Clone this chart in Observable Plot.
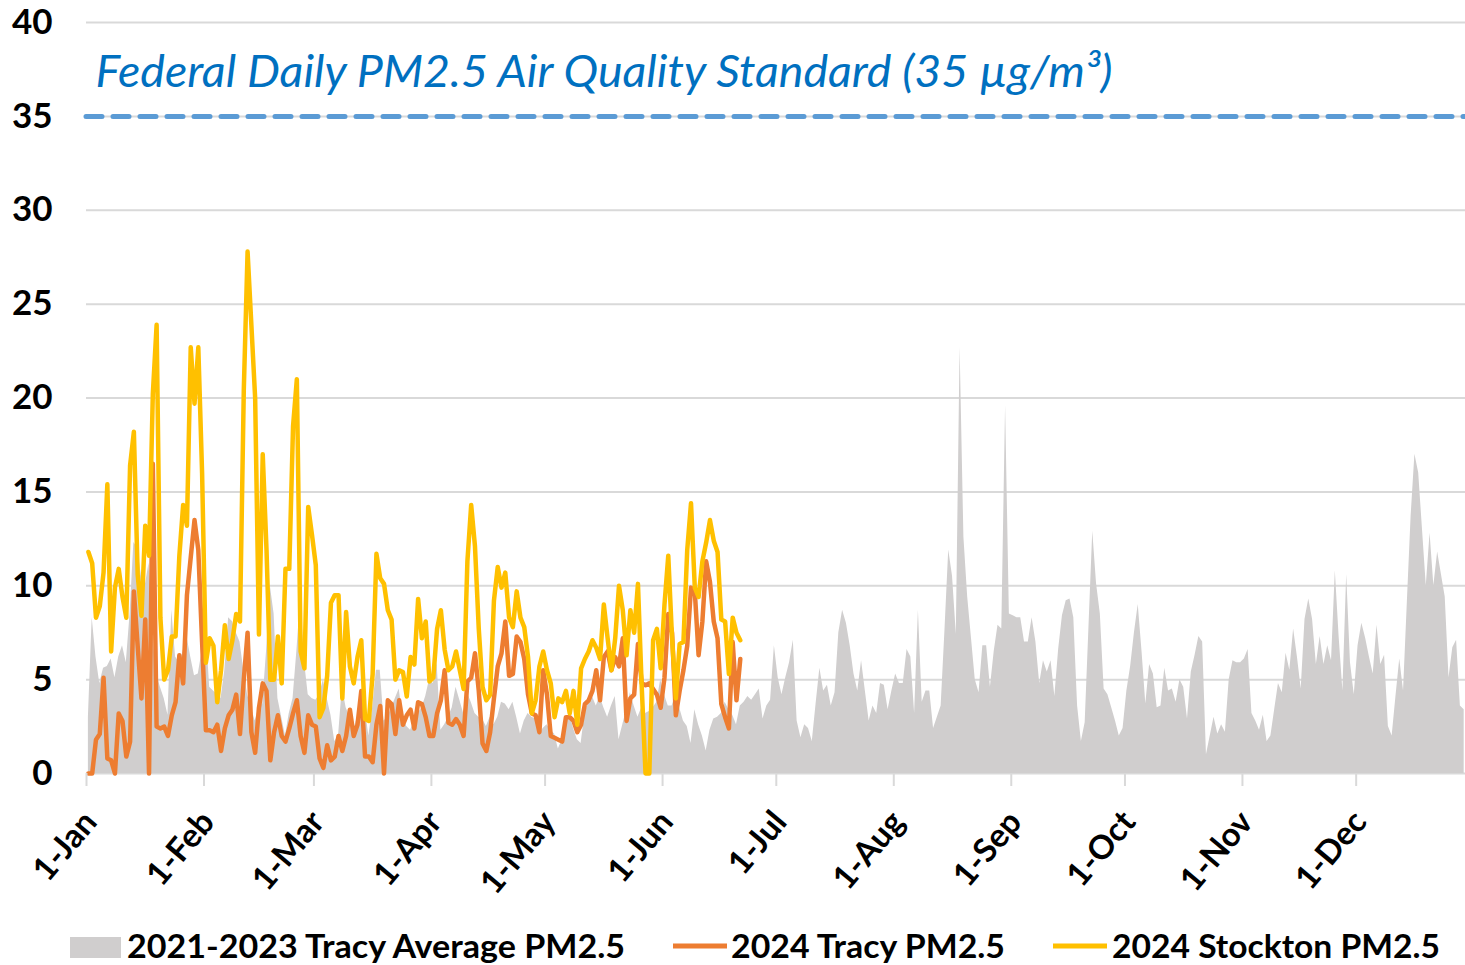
<!DOCTYPE html>
<html><head><meta charset="utf-8">
<script src="https://cdn.jsdelivr.net/npm/d3@7"></script>
<script src="https://cdn.jsdelivr.net/npm/@observablehq/plot@0.6"></script>
<style>
body{margin:0;background:#fff;font-family:Lato,sans-serif}
#chart svg,#legend svg{display:block}
</style></head><body><div id="chart"></div><div id="legend"></div>
<script>
// 2021-2023 Tracy average, daily (index 0 = 1-Jan)
const grayAvg = [
3.0,8.3,6.2,4.8,5.6,5.7,6.1,5.1,6.2,6.8,
5.9,8.5,12.3,12.0,10.5,10.0,11.2,7.3,5.3,4.6,
4.0,3.1,8.7,6.2,5.9,6.5,7.3,6.2,5.2,5.3,
6.5,7.9,4.6,4.4,4.2,4.0,5.5,8.3,8.1,7.5,
7.0,5.5,4.2,3.5,2.8,3.5,3.7,6.5,10.0,8.5,
4.0,3.0,2.0,3.2,4.0,6.5,9.4,6.0,4.2,4.0,
3.9,4.2,5.0,4.0,3.1,1.7,2.0,4.6,3.5,3.0,
2.3,3.0,4.3,3.5,2.0,3.5,5.5,5.5,2.8,3.0,
3.5,4.0,4.5,3.0,2.5,2.3,2.8,3.2,3.5,4.1,
5.0,4.8,5.9,2.3,2.6,3.0,3.5,4.6,3.9,3.2,
4.3,3.8,3.2,3.0,2.9,2.5,3.0,2.6,3.0,3.8,
3.7,3.4,3.8,3.0,2.1,2.8,3.2,3.0,2.9,2.1,
2.4,2.6,2.3,2.1,1.3,1.8,2.5,3.2,2.4,1.8,
1.6,3.2,3.8,4.1,3.6,4.1,3.5,3.0,3.6,4.1,
1.8,2.6,3.4,4.3,3.6,3.0,3.5,3.2,3.3,3.5,
3.8,5.0,4.2,3.6,3.6,4.2,3.5,2.8,2.5,1.6,
3.4,2.6,2.0,1.2,2.3,2.9,3.0,3.2,3.8,3.4,
3.1,2.6,3.6,3.8,4.1,3.9,4.2,4.5,2.9,3.6,
3.9,6.8,5.1,4.2,5.1,5.9,7.1,2.8,1.9,2.6,
2.4,1.7,3.7,5.6,4.4,4.7,3.6,4.3,7.5,8.7,
8.0,6.8,5.3,4.4,6.0,4.4,2.8,3.6,3.2,4.8,
4.7,3.4,4.4,5.3,4.8,4.8,6.6,6.2,3.2,8.7,
3.8,4.4,4.4,2.4,3.0,3.6,7.6,11.9,10.5,7.4,
22.7,12.6,9.4,7.2,5.0,4.3,6.8,6.8,4.6,6.5,
7.9,7.7,19.6,8.5,8.4,8.3,8.3,7.0,7.0,8.3,
7.0,4.8,6.0,5.4,6.0,4.1,6.6,8.4,9.2,9.3,
8.3,3.6,1.7,2.7,7.8,12.9,10.1,8.5,4.5,4.2,
3.5,2.8,2.0,2.4,4.4,5.7,7.5,9.0,6.5,3.7,
5.8,5.3,3.5,3.6,5.6,4.4,4.5,3.8,5.0,4.6,
2.9,5.4,6.3,7.3,7.0,1.0,2.0,3.0,2.1,2.6,
2.2,5.0,6.0,5.9,5.9,6.1,6.6,3.2,2.8,2.3,
3.1,1.7,2.0,3.4,4.8,4.3,6.4,5.5,7.7,6.2,
4.5,8.2,9.3,8.2,5.8,7.3,5.8,6.8,6.0,10.8,
7.3,4.4,10.6,5.9,4.2,6.8,8.0,7.2,6.2,5.3,
7.9,5.8,6.3,2.5,2.0,4.1,6.1,4.4,9.1,13.7,
17.0,16.0,13.0,10.0,12.8,10.0,11.8,10.6,9.4,5.1,
6.7,7.1,3.6,3.4
];
// 2024 Tracy, daily from 1-Jan
const tracy2024 = [
0,0,1.8,2.1,5.1,0.8,0.7,0.0,3.2,2.8,
0.9,1.7,9.7,6.8,4.0,8.2,0.0,16.5,2.5,2.4,
2.5,2.0,3.1,3.8,6.3,4.8,9.5,11.5,13.5,11.9,
7.0,2.3,2.3,2.2,2.6,1.2,2.4,3.1,3.4,4.2,
2.1,5.0,7.5,2.2,1.1,3.5,4.8,4.4,0.7,2.2,
3.1,2.0,1.7,2.4,3.2,3.9,2.0,1.1,3.1,2.6,
2.5,0.8,0.3,1.5,0.7,0.9,2.0,1.2,2.0,3.4,
2.0,2.6,4.4,0.9,0.9,0.6,2.6,3.6,0.0,3.9,
3.7,2.1,3.9,2.6,3.1,3.4,2.4,3.8,3.7,3.0,
2.0,2.0,3.2,3.9,5.5,2.7,2.6,2.9,2.6,2.0,
4.9,5.1,6.4,4.4,1.6,1.2,2.2,4.0,5.7,6.4,
8.1,5.2,5.3,7.3,7.0,6.1,4.2,3.2,3.1,2.2,
5.5,4.2,2.0,1.9,1.8,1.7,3.0,3.0,2.8,2.2,
2.6,3.7,3.9,4.4,5.5,3.9,6.2,6.5,5.5,6.2,
5.7,7.2,2.8,4.0,4.2,6.9,4.8,4.7,4.8,4.5,
4.2,3.5,5.1,8.5,7.5,3.1,4.4,5.5,6.8,9.9,
9.7,6.3,8.1,11.3,10.2,8.1,7.2,3.7,3.0,2.4,
7.0,3.9,6.1
];
// 2024 Stockton, daily from 1-Jan
const stockton2024 = [
11.8,11.2,8.3,8.9,10.7,15.4,6.5,9.9,10.9,9.4,
8.3,16.4,18.2,10.6,8.4,13.2,11.6,20.2,23.9,8.3,
5.0,5.5,7.3,7.3,11.6,14.3,13.2,22.7,19.7,22.7,
16.0,5.9,7.2,6.8,3.8,5.5,7.9,6.1,7.1,8.5,
8.1,20.4,27.8,23.9,20.0,7.4,17.0,11.9,5.0,5.0,
7.3,4.8,10.9,10.9,18.5,21.0,6.5,5.6,14.2,12.7,
11.1,3.0,3.5,5.2,9.1,9.5,9.5,4.0,8.6,5.7,
4.8,6.2,7.1,2.9,2.8,5.3,11.7,10.4,10.1,8.7,
8.2,5.0,5.5,5.4,4.1,6.2,5.8,9.3,7.2,8.1,
4.9,5.1,7.7,8.7,6.6,5.5,5.7,6.5,5.5,4.5,
11.3,14.3,12.1,7.7,4.6,3.9,4.2,9.2,11.0,9.9,
10.7,8.3,7.8,9.7,8.3,7.8,6.2,3.2,3.9,5.7,
6.5,5.5,4.8,3.0,4.0,3.8,4.4,3.2,4.4,2.6,
5.6,6.1,6.5,7.1,6.7,6.1,9.0,7.2,5.5,7.2,
10.0,8.7,6.3,8.7,7.5,10.1,4.6,0,0,7.1,
7.7,5.6,9.0,11.6,7.2,4.0,6.9,7.0,11.9,14.4,
9.9,9.4,11.3,12.3,13.5,12.4,11.8,8.2,8.1,5.3,
8.3,7.5,7.1
];
const monthStarts = [0,31,60,91,121,152,182,213,244,274,305,335];
const monthLabels = ["1-Jan","1-Feb","1-Mar","1-Apr","1-May","1-Jun","1-Jul","1-Aug","1-Sep","1-Oct","1-Nov","1-Dec"];
const yTicks = [0,5,10,15,20,25,30,35,40];
const standard = 35;
const titleText = "Federal Daily PM2.5 Air Quality Standard (35 µg/m³)";
const seriesNames = ["2021-2023 Tracy Average PM2.5","2024 Tracy PM2.5","2024 Stockton PM2.5"];
const seriesColors = ["#D0CECE","#ED7D31","#FFC000"];

const toRows = arr => arr.map((v,i)=>({day:i+0.5, v}));
const FONT = "Lato, 'Open Sans', sans-serif";

const plot = Plot.plot({
  width: 1465, height: 920,
  marginLeft: 86, marginRight: 0, marginTop: 22, marginBottom: 147,
  x: {domain: [0, 363.85], axis: null},
  y: {domain: [0, 40], axis: null},
  style: {fontFamily: FONT, background: "#fff", color: "#000", overflow: "visible"},
  marks: [
    Plot.gridY(yTicks, {stroke: "#D9D9D9", strokeOpacity: 1, strokeWidth: 2}),
    Plot.areaY(toRows(grayAvg), {x: "day", y: "v", fill: seriesColors[0]}),
    Plot.line(toRows(tracy2024), {x: "day", y: "v", stroke: seriesColors[1], strokeWidth: 4.5, strokeLinejoin: "round", strokeLinecap: "round"}),
    Plot.line(toRows(stockton2024), {x: "day", y: "v", stroke: seriesColors[2], strokeWidth: 4.5, strokeLinejoin: "round", strokeLinecap: "round"}),
    Plot.ruleY([standard], {stroke: "#5B9BD5", strokeWidth: 5, strokeDasharray: "16,11", strokeLinecap: "round"}),
    Plot.axisY(yTicks, {label: null, tickSize: 0, tickPadding: 34, fontSize: 35, fontWeight: "bold"}),
    Plot.axisX(monthStarts, {label: null, tickSize: 13, stroke: "#D9D9D9", strokeWidth: 2, tickFormat: () => ""}),
    Plot.axisX(monthStarts, {label: null, tickSize: 0, tickRotate: -50, tickFormat: d => monthLabels[monthStarts.indexOf(d)], fontSize: 33, fontWeight: "bold", dy: 31, dx: 4}),
    Plot.text([titleText], {frameAnchor: "top-left", dx: 9, dy: 33, lineAnchor: "top", textAnchor: "start", fill: "#0070C0", fontStyle: "italic", fontSize: 44})
  ]
});
document.getElementById("chart").appendChild(plot);
d3.select(plot).selectAll("text").filter(function(){ return this.textContent === titleText; })
  .attr("textLength", 1017).attr("lengthAdjust", "spacingAndGlyphs");

// legend below the chart
const lg = d3.select("#legend").append("svg").attr("width", 1465).attr("height", 45)
  .style("font-family", FONT).style("font-weight", "bold").style("font-size", "32px");
const items = [
  {sx: 70, tx: 127, tw: 498, type: "rect"},
  {sx: 673, tx: 731, tw: 274, type: "line"},
  {sx: 1053, tx: 1112, tw: 328, type: "line"}
];
items.forEach((it, i) => {
  if (it.type === "rect") lg.append("rect").attr("x", it.sx).attr("y", 17).attr("width", 51).attr("height", 21).attr("fill", seriesColors[i]);
  else lg.append("line").attr("x1", it.sx).attr("x2", it.sx + 54).attr("y1", 26).attr("y2", 26).attr("stroke", seriesColors[i]).attr("stroke-width", 5);
  lg.append("text").attr("x", it.tx).attr("y", 38).attr("fill", "#000").text(seriesNames[i])
    .attr("textLength", it.tw).attr("lengthAdjust", "spacingAndGlyphs");
});
</script></body></html>
